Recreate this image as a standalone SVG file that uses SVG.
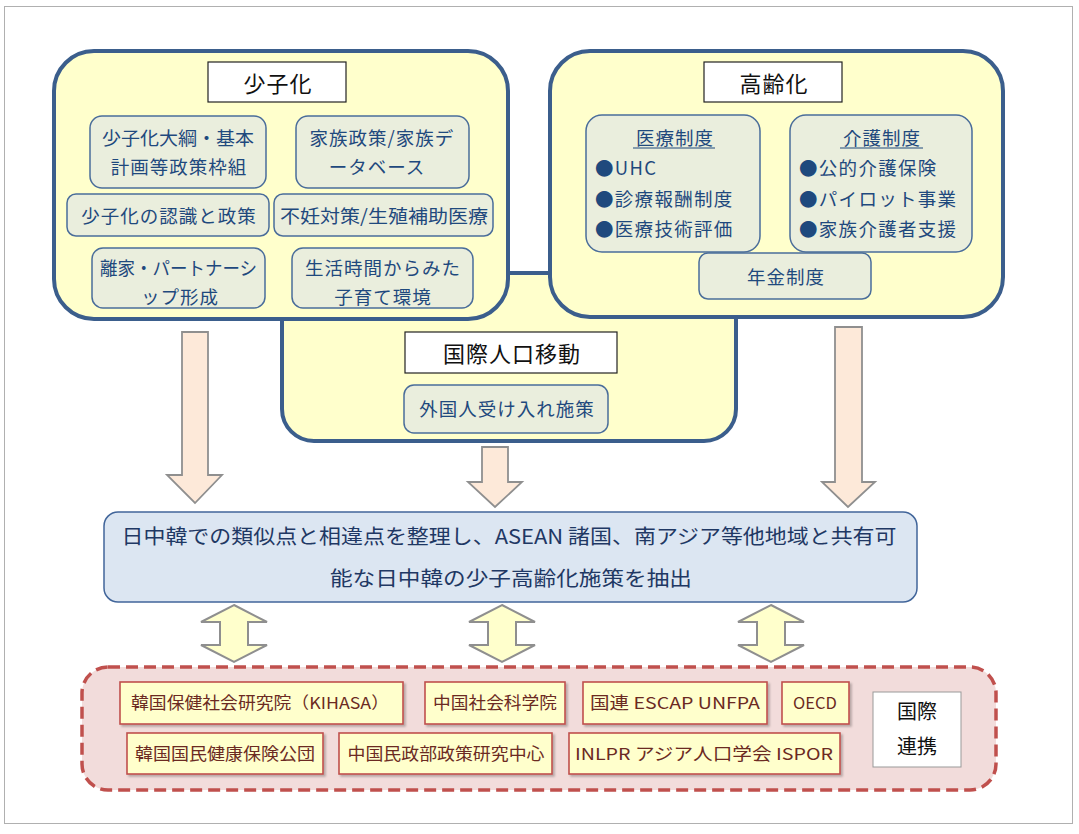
<svg xmlns="http://www.w3.org/2000/svg" width="1079" height="834" viewBox="0 0 1079 834">
<style>
text{font-family:"Noto Sans CJK JP","Noto Sans",sans-serif;dominant-baseline:central;text-anchor:middle}
.big{fill:#FFFFCC;stroke:#3B5E8C;stroke-width:4}
.lbl{fill:#FFFFFF;stroke:#222;stroke-width:1.2}
.lt{font-size:22px;fill:#111;letter-spacing:1px}
.in{fill:#EAEEDD;stroke:#4A6D9A;stroke-width:1.5}
.it{font-size:18.5px;fill:#1F497D;letter-spacing:1px}
.itl{font-size:18.5px;fill:#1F497D;text-anchor:start;letter-spacing:1.3px}
.down{fill:#FDE9D9;stroke:#8F8F8F;stroke-width:1.8}
.dbl{fill:#FFFFCC;stroke:#8F8F8F;stroke-width:2}
.org{fill:#FFFFCC;stroke:#C0504D;stroke-width:1.6}
.ot{font-size:16.5px;fill:#6B2A22}
</style>
<defs>
<filter id="sh" x="-5%" y="-10%" width="115%" height="130%">
<feDropShadow dx="2" dy="2" stdDeviation="1.2" flood-color="#000" flood-opacity="0.25"/>
</filter>
</defs>
<rect x="4.5" y="6.5" width="1068" height="817" fill="#FFFFFF" stroke="#B0B0B0" stroke-width="1"/>

<g id="migration">
<rect class="big" x="282" y="273" width="454" height="168" rx="32"/>
<rect class="lbl" x="405" y="332" width="212" height="41"/>
<text class="lt" x="512" y="352">国際人口移動</text>
<rect class="in" x="404" y="385" width="204" height="48" rx="10"/>
<text class="it" x="507" y="408">外国人受け入れ施策</text>
</g>

<g id="shoshika">
<rect class="big" x="54" y="51" width="454" height="268" rx="40"/>
<rect class="lbl" x="208" y="62" width="138" height="40"/>
<text class="lt" x="278" y="82">少子化</text>
<rect class="in" x="90" y="116" width="176" height="72" rx="12"/>
<text x="178" y="137" font-size="18.5" fill="#1F497D" textLength="152" lengthAdjust="spacingAndGlyphs">少子化大綱・基本</text>
<text class="it" x="179" y="166">計画等政策枠組</text>
<rect class="in" x="296" y="116" width="173" height="72" rx="12"/>
<text class="it" x="382" y="137">家族政策/家族デ</text>
<text class="it" x="377" y="166">ータベース</text>
<rect class="in" x="67" y="194" width="202" height="42" rx="9"/>
<text class="it" x="169" y="215">少子化の認識と政策</text>
<rect class="in" x="274" y="194" width="219" height="42" rx="9"/>
<text x="384" y="215" font-size="18.5" fill="#1F497D" textLength="208" lengthAdjust="spacingAndGlyphs">不妊対策/生殖補助医療</text>
<rect class="in" x="92" y="248" width="173" height="60" rx="11"/>
<text x="178.5" y="267" font-size="18.5" fill="#1F497D" textLength="157" lengthAdjust="spacingAndGlyphs">離家・パートナーシ</text>
<text class="it" x="180" y="296">ップ形成</text>
<rect class="in" x="292" y="248" width="181" height="60" rx="11"/>
<text class="it" x="383" y="267">生活時間からみた</text>
<text class="it" x="383" y="296">子育て環境</text>
</g>

<g id="koreika">
<rect class="big" x="550" y="51" width="453" height="266" rx="40"/>
<rect class="lbl" x="704" y="62" width="138" height="40"/>
<text class="lt" x="774" y="82">高齢化</text>
<rect class="in" x="586" y="115" width="174" height="137" rx="16"/>
<text class="it" x="675" y="137">医療制度</text>
<line x1="633" y1="148" x2="715" y2="148" stroke="#1F497D" stroke-width="1.2"/>
<text class="itl" x="595" y="167">●UHC</text>
<text class="itl" x="595" y="198">●診療報酬制度</text>
<text class="itl" x="595" y="228">●医療技術評価</text>
<rect class="in" x="790" y="115" width="182" height="137" rx="16"/>
<text class="it" x="882" y="137">介護制度</text>
<line x1="840" y1="148" x2="923" y2="148" stroke="#1F497D" stroke-width="1.2"/>
<text class="itl" x="799" y="167">●公的介護保険</text>
<text class="itl" x="799" y="198">●パイロット事業</text>
<text class="itl" x="799" y="228">●家族介護者支援</text>
<rect class="in" x="699" y="253" width="172" height="46" rx="9"/>
<text class="it" x="786" y="276">年金制度</text>
</g>

<g id="connectors">
<polygon class="down" points="182,332 208,332 208,475 222,475 195,503 167,475 182,475"/>
<polygon class="down" points="482,447 508,447 508,482 522,482 495,507 468,482 482,482"/>
<polygon class="down" points="835,327 862,327 862,482 875,482 848,507 822,482 835,482"/>
<polygon class="dbl" points="234,605 267,622 248,622 248,645 267,645 234,662 201,645 220,645 220,622 201,622"/>
<polygon class="dbl" points="502,605 535,622 516,622 516,645 535,645 502,662 469,645 488,645 488,622 469,622"/>
<polygon class="dbl" points="771,605 804,622 785,622 785,645 804,645 771,662 738,645 757,645 757,622 738,622"/>
</g>

<g id="summary">
<rect x="104" y="512" width="813" height="90" rx="14" fill="#DCE6F2" stroke="#41659A" stroke-width="1.5"/>
<text x="509" y="535" font-size="20" fill="#1F3864" textLength="775" lengthAdjust="spacingAndGlyphs">日中韓での類似点と相違点を整理し、ASEAN 諸国、南アジア等他地域と共有可</text>
<text x="511" y="577" font-size="20" fill="#1F3864" textLength="362" lengthAdjust="spacingAndGlyphs">能な日中韓の少子高齢化施策を抽出</text>
</g>

<g id="cooperation">
<rect x="82" y="667" width="914" height="123" rx="26" fill="#F2DCDB" stroke="#C0504D" stroke-width="3.5" stroke-dasharray="12 6"/>
<g id="kihasa"><rect class="org" filter="url(#sh)" x="120" y="682" width="283" height="42"/>
<text class="ot" x="260" y="702" textLength="258" lengthAdjust="spacingAndGlyphs">韓国保健社会研究院（KIHASA）</text></g>
<g id="cass"><rect class="org" filter="url(#sh)" x="425" y="682" width="140" height="42"/>
<text class="ot" x="495" y="702" textLength="124" lengthAdjust="spacingAndGlyphs">中国社会科学院</text></g>
<g id="un"><rect class="org" filter="url(#sh)" x="583" y="682" width="184" height="42"/>
<text class="ot" x="675" y="702" textLength="170" lengthAdjust="spacingAndGlyphs">国連 ESCAP UNFPA</text></g>
<g id="oecd"><rect class="org" filter="url(#sh)" x="782" y="682" width="67" height="42"/>
<text class="ot" x="815" y="702" font-size="17">OECD</text></g>
<g id="nhis"><rect class="org" filter="url(#sh)" x="127" y="733" width="196" height="41"/>
<text class="ot" x="225" y="753" textLength="180" lengthAdjust="spacingAndGlyphs">韓国国民健康保険公団</text></g>
<g id="mca"><rect class="org" filter="url(#sh)" x="339" y="733" width="213" height="41"/>
<text class="ot" x="446" y="753" textLength="197" lengthAdjust="spacingAndGlyphs">中国民政部政策研究中心</text></g>
<g id="inlpr"><rect class="org" filter="url(#sh)" x="569" y="733" width="271" height="41"/>
<text class="ot" x="704" y="753" textLength="258" lengthAdjust="spacingAndGlyphs">INLPR  アジア人口学会  ISPOR</text></g>
<g id="intl"><rect x="873" y="692" width="88" height="75" fill="#FFFFFF" stroke="#999" stroke-width="1"/>
<text x="917" y="710" font-size="20" fill="#111">国際</text>
<text x="917" y="745" font-size="20" fill="#111">連携</text></g>
</g>
</svg>
